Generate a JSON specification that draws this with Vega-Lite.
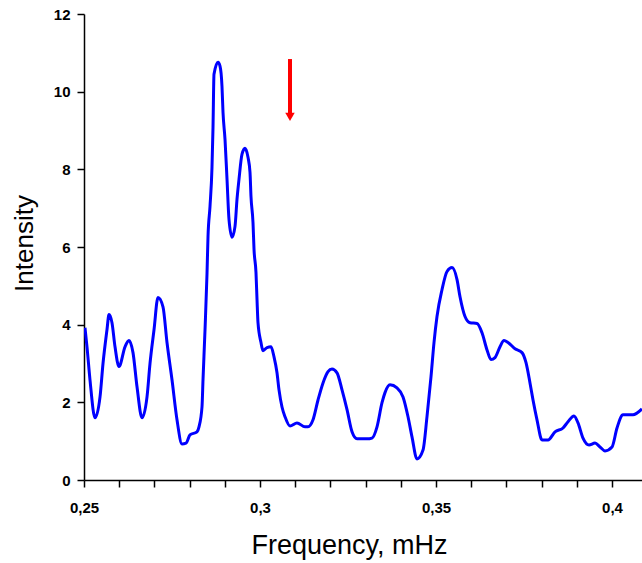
{
  "$schema": "https://vega.github.io/schema/vega-lite/v6.json",
  "width": 558,
  "height": 466,
  "autosize": "none",
  "padding": {"left": 84, "top": 14, "right": 0, "bottom": 83},
  "background": "white",
  "config": {
    "view": {"stroke": null},
    "axis": {
      "grid": false,
      "domainColor": "black",
      "tickColor": "black",
      "labelColor": "black",
      "titleColor": "black",
      "labelFont": "Liberation Sans",
      "titleFont": "Liberation Sans",
      "domainWidth": 1.5,
      "tickWidth": 1.5
    }
  },
  "datasets": {
    "curve": [
      {"f": 0.25028, "v": 3.92}, {"f": 0.25085, "v": 3.43}, {"f": 0.2517, "v": 2.58}, {"f": 0.25313, "v": 1.6},
      {"f": 0.25455, "v": 2.14}, {"f": 0.2554, "v": 3.0}, {"f": 0.25653, "v": 3.87}, {"f": 0.2571, "v": 4.26},
      {"f": 0.25795, "v": 4.05}, {"f": 0.25881, "v": 3.43}, {"f": 0.25994, "v": 2.92}, {"f": 0.26165, "v": 3.43},
      {"f": 0.26278, "v": 3.59}, {"f": 0.26392, "v": 3.28}, {"f": 0.26506, "v": 2.4}, {"f": 0.26648, "v": 1.6},
      {"f": 0.2679, "v": 2.14}, {"f": 0.26875, "v": 3.0}, {"f": 0.26989, "v": 3.87}, {"f": 0.27102, "v": 4.7},
      {"f": 0.27244, "v": 4.46}, {"f": 0.27358, "v": 3.54}, {"f": 0.275, "v": 2.58}, {"f": 0.27642, "v": 1.55},
      {"f": 0.27784, "v": 0.93}, {"f": 0.27898, "v": 0.95}, {"f": 0.28011, "v": 1.16}, {"f": 0.2821, "v": 1.24},
      {"f": 0.28267, "v": 1.37}, {"f": 0.28352, "v": 1.88}, {"f": 0.28381, "v": 2.58}, {"f": 0.28438, "v": 3.87},
      {"f": 0.28494, "v": 5.3}, {"f": 0.28523, "v": 6.27}, {"f": 0.2858, "v": 7.05}, {"f": 0.28636, "v": 8.05},
      {"f": 0.28665, "v": 9.08}, {"f": 0.28693, "v": 10.45}, {"f": 0.28807, "v": 10.76}, {"f": 0.28864, "v": 10.66},
      {"f": 0.2892, "v": 10.14}, {"f": 0.28949, "v": 9.47}, {"f": 0.29006, "v": 8.77}, {"f": 0.29063, "v": 7.74},
      {"f": 0.29119, "v": 6.71}, {"f": 0.29205, "v": 6.25}, {"f": 0.2929, "v": 6.53}, {"f": 0.29347, "v": 7.23},
      {"f": 0.29403, "v": 7.74}, {"f": 0.29489, "v": 8.39}, {"f": 0.29574, "v": 8.54}, {"f": 0.29659, "v": 8.31},
      {"f": 0.29716, "v": 7.92}, {"f": 0.29744, "v": 7.3}, {"f": 0.29801, "v": 6.63}, {"f": 0.2983, "v": 5.94},
      {"f": 0.29886, "v": 5.34}, {"f": 0.29915, "v": 4.65}, {"f": 0.29943, "v": 4.05}, {"f": 0.30028, "v": 3.54},
      {"f": 0.30085, "v": 3.33}, {"f": 0.30199, "v": 3.41}, {"f": 0.30313, "v": 3.43}, {"f": 0.30398, "v": 3.17},
      {"f": 0.30483, "v": 2.76}, {"f": 0.3054, "v": 2.32}, {"f": 0.30625, "v": 1.88}, {"f": 0.3071, "v": 1.63},
      {"f": 0.30852, "v": 1.39}, {"f": 0.31051, "v": 1.47}, {"f": 0.31278, "v": 1.37}, {"f": 0.31364, "v": 1.37},
      {"f": 0.31506, "v": 1.55}, {"f": 0.31648, "v": 2.06}, {"f": 0.3179, "v": 2.5}, {"f": 0.31932, "v": 2.79},
      {"f": 0.32045, "v": 2.86}, {"f": 0.32188, "v": 2.76}, {"f": 0.3233, "v": 2.32}, {"f": 0.32472, "v": 1.81},
      {"f": 0.32614, "v": 1.24}, {"f": 0.32756, "v": 1.06}, {"f": 0.3304, "v": 1.06}, {"f": 0.33182, "v": 1.08},
      {"f": 0.33324, "v": 1.37}, {"f": 0.33466, "v": 1.99}, {"f": 0.33551, "v": 2.25}, {"f": 0.33693, "v": 2.45},
      {"f": 0.33892, "v": 2.37}, {"f": 0.34063, "v": 2.14}, {"f": 0.34205, "v": 1.63}, {"f": 0.34318, "v": 1.11},
      {"f": 0.3446, "v": 0.54}, {"f": 0.34631, "v": 0.77}, {"f": 0.34744, "v": 1.63}, {"f": 0.34858, "v": 2.66},
      {"f": 0.34943, "v": 3.54}, {"f": 0.35028, "v": 4.21}, {"f": 0.3517, "v": 4.9}, {"f": 0.35313, "v": 5.37},
      {"f": 0.35455, "v": 5.47}, {"f": 0.35597, "v": 5.16}, {"f": 0.35682, "v": 4.72}, {"f": 0.35824, "v": 4.21},
      {"f": 0.35966, "v": 4.05}, {"f": 0.36165, "v": 4.03}, {"f": 0.36307, "v": 3.79}, {"f": 0.36449, "v": 3.35},
      {"f": 0.36563, "v": 3.1}, {"f": 0.36676, "v": 3.15}, {"f": 0.36818, "v": 3.43}, {"f": 0.36932, "v": 3.59},
      {"f": 0.37045, "v": 3.54}, {"f": 0.37244, "v": 3.38}, {"f": 0.37443, "v": 3.28}, {"f": 0.37557, "v": 3.02},
      {"f": 0.3767, "v": 2.5}, {"f": 0.37756, "v": 2.06}, {"f": 0.37869, "v": 1.55}, {"f": 0.38011, "v": 1.03},
      {"f": 0.38182, "v": 1.03}, {"f": 0.38381, "v": 1.24}, {"f": 0.38608, "v": 1.34}, {"f": 0.3875, "v": 1.5},
      {"f": 0.3892, "v": 1.65}, {"f": 0.39034, "v": 1.47}, {"f": 0.39176, "v": 1.08}, {"f": 0.39347, "v": 0.9},
      {"f": 0.39517, "v": 0.95}, {"f": 0.39659, "v": 0.85}, {"f": 0.39801, "v": 0.75}, {"f": 0.4, "v": 0.85},
      {"f": 0.40142, "v": 1.34}, {"f": 0.40313, "v": 1.68}, {"f": 0.40597, "v": 1.68}, {"f": 0.40852, "v": 1.83}
    ],
    "arrow": [
      {"f": 0.30852, "top": 10.84, "bottom": 9.45, "tip": 9.35}
    ]
  },
  "layer": [
    {
      "data": {"name": "curve"},
      "mark": {"type": "line", "color": "#0000FF", "strokeWidth": 3, "interpolate": "monotone", "clip": true},
      "encoding": {
        "x": {
          "field": "f",
          "type": "quantitative",
          "scale": {"domain": [0.25, 0.40852], "nice": false, "zero": false},
          "axis": {
            "title": "Frequency, mHz",
            "values": [0.25, 0.26, 0.27, 0.28, 0.29, 0.3, 0.31, 0.32, 0.33, 0.34, 0.35, 0.36, 0.37, 0.38, 0.39, 0.4],
            "tickCount": 40,
            "labelExpr": "round(datum.value*100) % 5 == 0 ? replace(format(datum.value, '.2~f'), '.', ',') : ''",
            "tickSize": 7,
            "labelFontSize": 15,
            "labelFontWeight": "bold",
            "labelPadding": 13,
            "labelOverlap": false,
            "labelFlush": false,
            "labelBound": false,
            "titleFontSize": 27,
            "titleFontWeight": "normal",
            "titleX": 265,
            "titleY": 73,
            "titleBaseline": "alphabetic",
            "titleAlign": "center"
          }
        },
        "y": {
          "field": "v",
          "type": "quantitative",
          "scale": {"domain": [0, 12], "nice": false, "zero": true},
          "axis": {
            "title": "Intensity",
            "values": [0, 2, 4, 6, 8, 10, 12],
            "tickCount": 20,
            "format": "d",
            "tickSize": 7,
            "labelFontSize": 15,
            "labelFontWeight": "bold",
            "labelPadding": 7,
            "labelOverlap": false,
            "titleFontSize": 26,
            "titleFontWeight": "normal",
            "titleAngle": -90,
            "titleX": -52,
            "titleY": 229,
            "titleBaseline": "alphabetic",
            "titleAlign": "center"
          }
        }
      }
    },
    {
      "data": {"name": "arrow"},
      "mark": {"type": "rule", "color": "#FF0000", "strokeWidth": 4},
      "encoding": {
        "x": {"field": "f", "type": "quantitative"},
        "y": {"field": "top", "type": "quantitative"},
        "y2": {"field": "bottom"}
      }
    },
    {
      "data": {"name": "arrow"},
      "mark": {"type": "point", "shape": "triangle-down", "filled": true, "color": "#FF0000", "size": 90, "opacity": 1},
      "encoding": {
        "x": {"field": "f", "type": "quantitative"},
        "y": {"field": "tip", "type": "quantitative"}
      }
    }
  ]
}
